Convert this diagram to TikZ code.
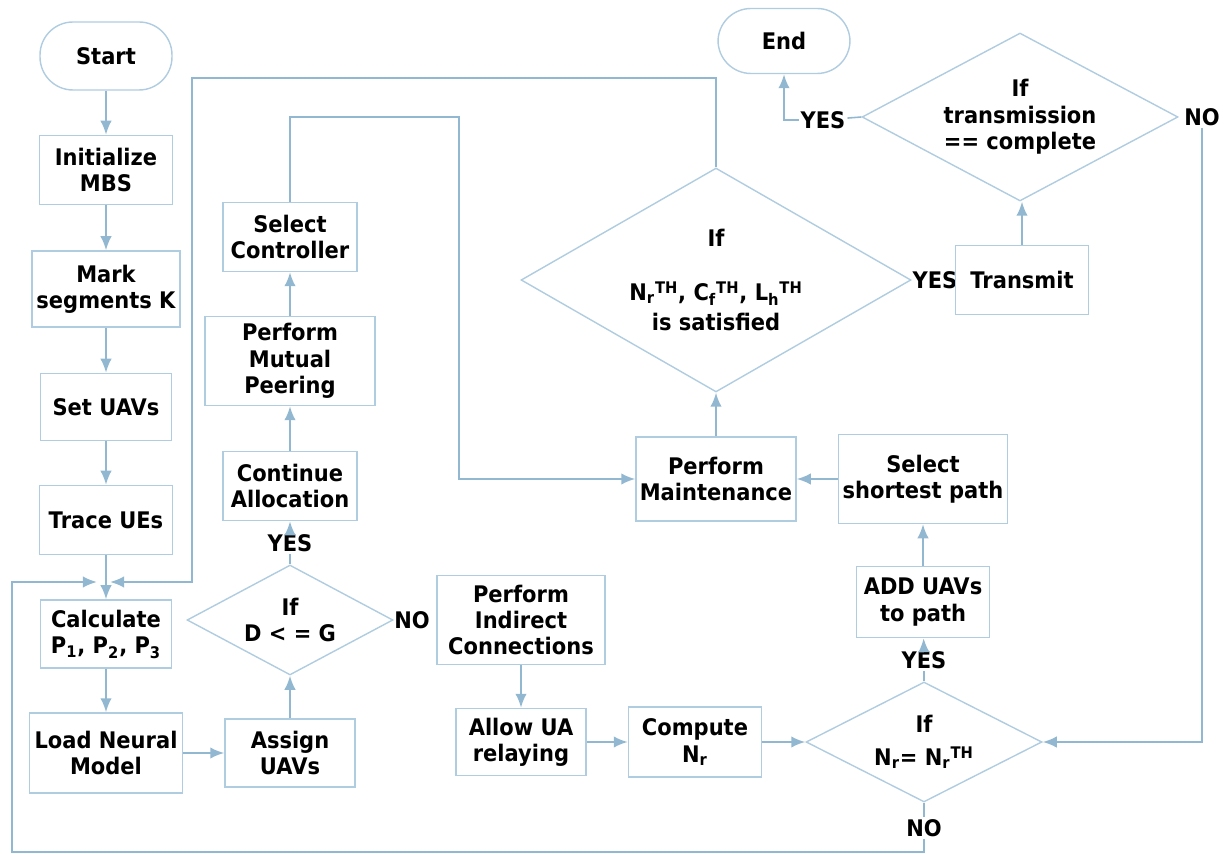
\documentclass[tikz,border=0pt]{standalone}
\usepackage{fontspec}
\setmainfont{DejaVu Sans}[FakeStretch=0.92]
\usetikzlibrary{shapes.geometric}
\usetikzlibrary{arrows.meta}
\definecolor{boxblue}{RGB}{176,204,224}
\definecolor{lineblue}{RGB}{146,184,209}

\begin{document}
\begin{tikzpicture}[x=0.02cm, y=-0.02cm,
    font=\fontsize{13}{15}\selectfont\bfseries,
    box/.style={draw=boxblue, line width=0.8pt, align=center, inner sep=1pt},
    term/.style={box, rounded corners=0.66cm},
    cond/.style={diamond, draw=boxblue, line width=0.8pt, align=center, inner sep=0pt, aspect=2},
    flow/.style={draw=lineblue, line width=1.1pt, -{Latex[length=8pt,width=6.5pt]}},
    wire/.style={draw=lineblue, line width=0.9pt},
    lbl/.style={inner sep=1pt}]
    \useasboundingbox (0,0) rectangle (1230,854);

    % left column
    \node[term, minimum width=2.64cm, minimum height=1.36cm] (start) at (106,56) {Start};
    \node[box, minimum width=2.66cm, minimum height=1.38cm] (init) at (106,170) {Initialize\\MBS};
    \node[box, minimum width=2.96cm, minimum height=1.52cm] (mark) at (106,289) {Mark\\segments K};
    \node[box, minimum width=2.62cm, minimum height=1.34cm] (setu) at (106,407) {Set UAVs};
    \node[box, minimum width=2.66cm, minimum height=1.38cm] (trace) at (106,520) {Trace UEs};
    \node[box, minimum width=2.62cm, minimum height=1.36cm] (calc) at (106,634) {Calculate\\P\textsubscript{1}, P\textsubscript{2}, P\textsubscript{3}};
    \node[box, minimum width=3.06cm, minimum height=1.6cm] (load) at (106,753) {Load Neural\\Model};

    % middle column
    \node[box, minimum width=2.6cm, minimum height=1.36cm] (assign) at (290,753) {Assign\\UAVs};
    \node[cond, minimum width=4.12cm, minimum height=2.2cm] (dg) at (290,620) {If\\D < = G};
    \node[lbl] (yes1) at (290,543) {YES};
    \node[lbl] (no1) at (412,620) {NO};
    \node[box, minimum width=2.68cm, minimum height=1.38cm] (cont) at (290,486) {Continue\\Allocation};
    \node[box, minimum width=3.4cm, minimum height=1.78cm] (peer) at (290,361) {Perform\\Mutual\\Peering};
    \node[box, minimum width=2.68cm, minimum height=1.38cm] (selc) at (290,237) {Select\\Controller};

    % bottom row
    \node[box, minimum width=3.36cm, minimum height=1.78cm] (indir) at (521,620) {Perform\\Indirect\\Connections};
    \node[box, minimum width=2.6cm, minimum height=1.34cm] (allow) at (521,742) {Allow UA\\relaying};
    \node[box, minimum width=2.66cm, minimum height=1.4cm] (comp) at (695,742) {Compute\\N\textsubscript{r}};
    \node[cond, minimum width=4.72cm, minimum height=2.4cm] (dnr) at (924,742) {If\\[4pt]N\textsubscript{r}= N\textsubscript{r}\textsuperscript{TH}};
    \node[lbl] (yes3) at (924,660) {YES};
    \node[lbl] (no3) at (924,828) {NO};
    \node[box, minimum width=2.66cm, minimum height=1.42cm] (addu) at (923,602) {ADD UAVs\\to path};

    % right part
    \node[box, minimum width=3.38cm, minimum height=1.78cm] (short) at (923,479) {Select\\shortest path};
    \node[box, minimum width=3.2cm, minimum height=1.68cm] (maint) at (716,479) {Perform\\Maintenance};
    \node[cond, minimum width=7.8cm, minimum height=4.48cm] (sat) at (716,280)
        {If\\[16pt]N\textsubscript{r}\textsuperscript{TH}, C\textsubscript{f}\textsuperscript{TH}, L\textsubscript{h}\textsuperscript{TH}\\[2pt]is satisfied};
    \node[lbl] (yes4) at (935,280) {YES};
    \node[box, minimum width=2.66cm, minimum height=1.38cm] (trans) at (1022,280) {Transmit};
    \node[cond, minimum width=6.32cm, minimum height=3.36cm] (done) at (1020,117) {If\\transmission\\== complete};
    \node[lbl] (yes2) at (823,120) {YES};
    \node[lbl] (no2) at (1202,117) {NO};
    \node[term, minimum width=2.64cm, minimum height=1.3cm] (end) at (784,41) {End};

    % corners
    \coordinate (jl) at (97,582);
    \coordinate (jr) at (110,582);
    \coordinate (ctop) at (192,78);
    \coordinate (cin) at (459,117);
    \coordinate (cbot) at (12,852);

    % arrows
    \draw[flow] (start) -- (init);
    \draw[flow] (init) -- (mark);
    \draw[flow] (mark) -- (setu);
    \draw[flow] (setu) -- (trace);
    \draw[flow] (trace) -- (calc);
    \draw[flow] (calc) -- (load);
    \draw[flow] (load) -- (assign);
    \draw[flow] (assign) -- (dg);
    \draw[wire] (dg.north) -- (yes1);
    \draw[flow] (yes1) -- (cont);
    \draw[flow] (cont) -- (peer);
    \draw[flow] (peer) -- (selc);
    \draw[flow] (selc.north) |- (cin) |- (maint.west);
    \draw[flow] (indir) -- (allow);
    \draw[flow] (allow) -- (comp);
    \draw[flow] (comp) -- (dnr);
    \draw[wire] (dnr.north) -- (yes3);
    \draw[flow] (yes3) -- (addu);
    \draw[flow] (addu) -- (short);
    \draw[flow] (short) -- (maint);
    \draw[flow] (maint) -- (sat);
    \draw[flow] (sat.north) |- (ctop) -- (ctop |- jr) -- (jr);
    \draw[flow] (trans.north) -- (trans.north |- done.south);
    \draw[wire] (done.west) -- (yes2);
    \draw[flow] (yes2.west) -| (end.south);
    \draw[flow] (no2.south) -- (no2.south |- dnr.east) -- (dnr.east);
    \draw[wire] (dnr.south) -- (no3);
    \draw[flow] (no3.south) -- (no3.south |- cbot) -- (cbot) |- (jl);
\end{tikzpicture}
\end{document}
